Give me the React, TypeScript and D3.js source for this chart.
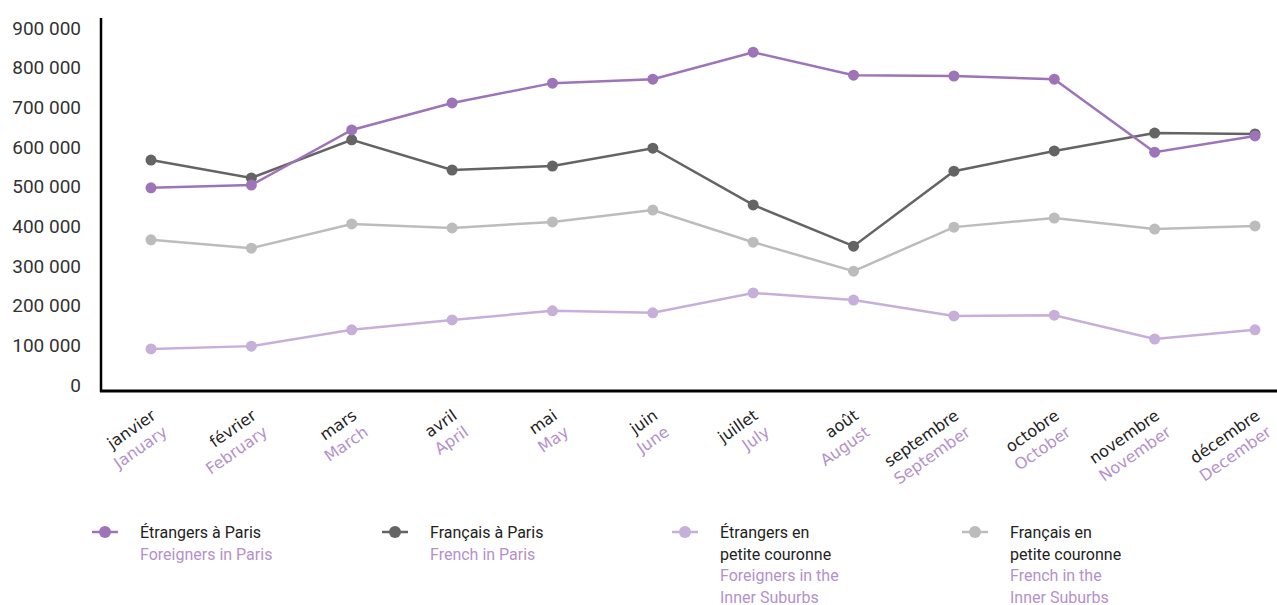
import { useEffect, useRef } from 'react'
import * as d3 from 'd3'

const monthsFr = ['janvier', 'février', 'mars', 'avril', 'mai', 'juin', 'juillet', 'août', 'septembre', 'octobre', 'novembre', 'décembre']
const monthsEn = ['January', 'February', 'March', 'April', 'May', 'June', 'July', 'August', 'September', 'October', 'November', 'December']

const foreignersParis = [497000, 504000, 643000, 711000, 761000, 771000, 839000, 781000, 779000, 771000, 587000, 628000]
const frenchParis = [567000, 522000, 618000, 542000, 552000, 597000, 454000, 350000, 539000, 590000, 635000, 633000]
const foreignersSuburbs = [91000, 98000, 139000, 164000, 187000, 182000, 232000, 214000, 174000, 176000, 116000, 139000]
const frenchSuburbs = [366000, 345000, 406000, 396000, 411000, 441000, 360000, 287000, 398000, 421000, 393000, 401000]

const yTicks = [0, 100000, 200000, 300000, 400000, 500000, 600000, 700000, 800000, 900000]

const seriesNames = [
  { fr: ['Étrangers à Paris'], en: ['Foreigners in Paris'] },
  { fr: ['Français à Paris'], en: ['French in Paris'] },
  { fr: ['Étrangers en', 'petite couronne'], en: ['Foreigners in the', 'Inner Suburbs'] },
  { fr: ['Français en', 'petite couronne'], en: ['French in the', 'Inner Suburbs'] },
]

const colors = ['#9d74b8', '#646464', '#c6afd8', '#bcbcbc']
const labelPurple = '#b491cb'
const uiFont = 'Roboto, sans-serif'

export default function App() {
  const svgRef = useRef(null)
  const width = 1277
  const height = 605

  useEffect(() => {
    const svg = d3.select(svgRef.current)
    svg.selectAll('*').remove()

    const x = d3.scalePoint<string>()
      .domain(monthsFr)
      .range([151, 1255])
    const y = d3.scaleLinear()
      .domain([0, 900000])
      .range([385, 28])

    // y tick labels
    svg.append('g')
      .selectAll('text')
      .data(yTicks)
      .enter()
      .append('text')
      .attr('x', 81)
      .attr('y', d => y(d))
      .attr('dy', '0.35em')
      .attr('text-anchor', 'end')
      .attr('font-family', uiFont)
      .attr('font-size', 19)
      .attr('fill', '#333')
      .text(d => d3.format(',')(d).replace(/,/g, ' '))

    // axes
    svg.append('line')
      .attr('x1', 101).attr('x2', 101)
      .attr('y1', 18).attr('y2', 392)
      .attr('stroke', '#000').attr('stroke-width', 2.5)
    svg.append('line')
      .attr('x1', 100).attr('x2', 1277)
      .attr('y1', 391).attr('y2', 391)
      .attr('stroke', '#000').attr('stroke-width', 3)

    // month labels, rotated
    const labels = svg.append('g')
    monthsFr.forEach((m, i) => {
      const tx = (x(m) as number) + 6
      labels.append('text')
        .attr('transform', `translate(${tx},418) rotate(-35)`)
        .attr('text-anchor', 'end')
        .attr('font-family', 'DejaVu Sans, sans-serif')
        .attr('font-size', 16)
        .attr('fill', '#222')
        .text(m)
      labels.append('text')
        .attr('transform', `translate(${tx},418) rotate(-35) translate(0,20)`)
        .attr('text-anchor', 'end')
        .attr('font-family', 'DejaVu Sans, sans-serif')
        .attr('font-size', 16)
        .attr('fill', labelPurple)
        .text(monthsEn[i])
    })

    // series, drawn back to front
    const allSeries = [foreignersParis, frenchParis, foreignersSuburbs, frenchSuburbs]
    const order = [3, 2, 1, 0]
    const line = d3.line<number>()
      .x((d, i) => x(monthsFr[i]) as number)
      .y(d => y(d))

    order.forEach(si => {
      const g = svg.append('g')
      g.append('path')
        .datum(allSeries[si])
        .attr('d', line)
        .attr('fill', 'none')
        .attr('stroke', colors[si])
        .attr('stroke-width', 2.5)
      g.selectAll('circle')
        .data(allSeries[si])
        .enter()
        .append('circle')
        .attr('cx', (d, i) => x(monthsFr[i]) as number)
        .attr('cy', d => y(d))
        .attr('r', 5.5)
        .attr('fill', colors[si])
    })

    // legend
    const legendX = [92, 382, 672, 962]
    const legend = svg.append('g')
      .selectAll('g')
      .data(seriesNames)
      .enter()
      .append('g')
      .attr('transform', (d, i) => `translate(${legendX[i]},532)`)
    legend.append('line')
      .attr('x1', 0).attr('x2', 26)
      .attr('y1', 0).attr('y2', 0)
      .attr('stroke', (d, i) => colors[i])
      .attr('stroke-width', 2.5)
    legend.append('circle')
      .attr('cx', 13).attr('cy', 0).attr('r', 6)
      .attr('fill', (d, i) => colors[i])
    legend.each(function (d) {
      const g = d3.select(this)
      const lines = [
        ...d.fr.map(t => ({ t, c: '#222' })),
        ...d.en.map(t => ({ t, c: labelPurple })),
      ]
      lines.forEach((l, k) => {
        g.append('text')
          .attr('x', 48)
          .attr('y', 6 + k * 21.5)
          .attr('font-family', uiFont)
          .attr('font-size', 16)
          .attr('fill', l.c)
          .text(l.t)
      })
    })
  }, [])

  return (
    <svg ref={svgRef} width={width} height={height} style={{ position: 'absolute', left: 0, top: 0, background: '#fff' }} />
  )
}
